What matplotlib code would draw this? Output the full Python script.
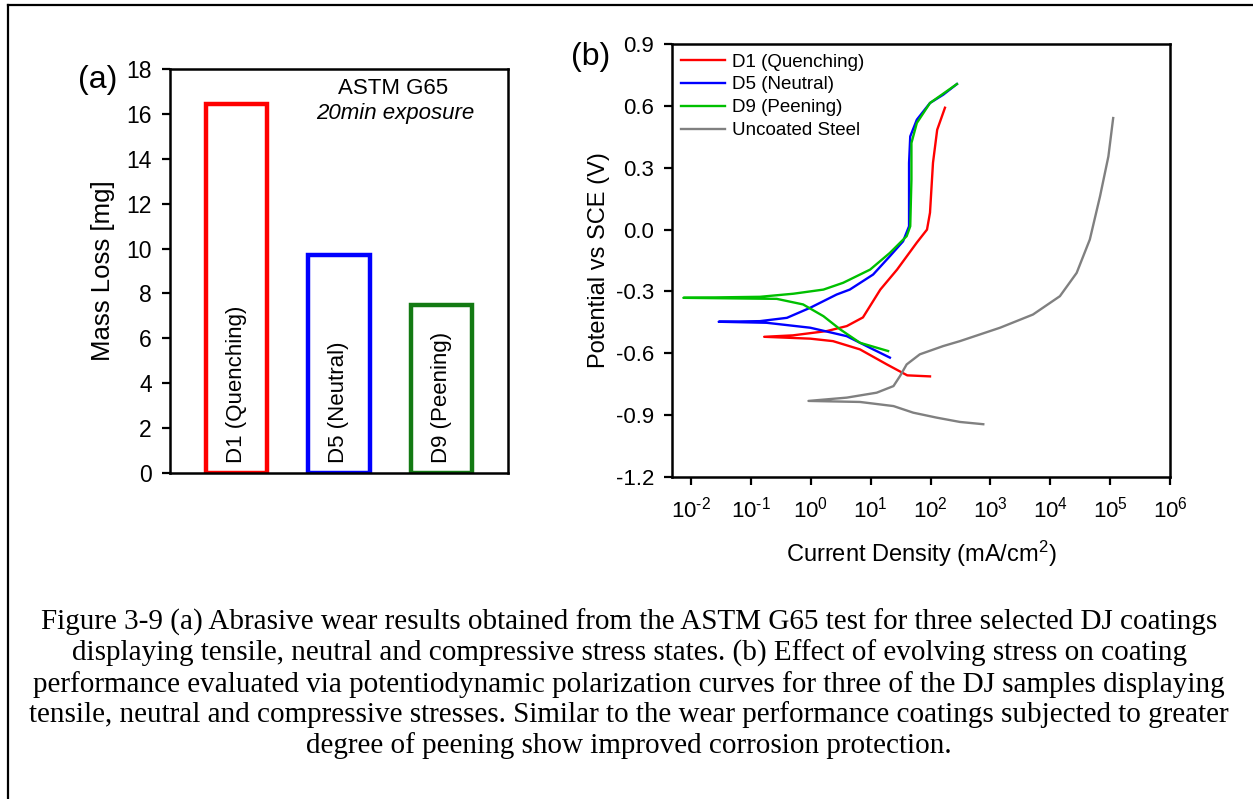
import matplotlib
matplotlib.use("Agg")
import matplotlib.pyplot as plt
from matplotlib.lines import Line2D
from matplotlib.ticker import FormatStrFormatter, NullLocator, FixedLocator, FuncFormatter
import numpy as np

plt.rcParams['font.family'] = ['Liberation Sans', 'DejaVu Sans']
plt.rcParams['axes.unicode_minus'] = False
plt.rcParams['mathtext.fontset'] = 'custom'
plt.rcParams['mathtext.rm'] = 'Liberation Sans'
plt.rcParams['mathtext.it'] = 'Liberation Sans:italic'

# (a) abrasive wear
samples = ['D1 (Quenching)', 'D5 (Neutral)', 'D9 (Peening)']
mass_loss = [16.45, 9.7, 7.5]
bar_colors = ['#ff0000', '#0000ff', '#137a13']

# (b) polarization curves: log10 current density (mA/cm2) and potential (V vs SCE)
d1_logi = [1.99, 1.61, 1.27, 0.82, 0.37, -0.01, -0.78, -0.30, 0.27, 0.60, 0.87,
           1.16, 1.44, 1.77, 1.94, 1.99, 2.04, 2.11, 2.24]
d1_pot = [-0.712, -0.707, -0.654, -0.581, -0.541, -0.529, -0.520, -0.513, -0.492,
          -0.468, -0.426, -0.291, -0.194, -0.063, 0.0, 0.082, 0.324, 0.484, 0.591]

d5_logi = [1.32, 1.04, 0.60, -0.01, -0.74, -1.54, -0.85, -0.40, -0.01, 0.43, 0.65,
           1.04, 1.32, 1.54, 1.64, 1.64, 1.64, 1.66, 1.77, 1.99, 2.21, 2.44]
d5_pot = [-0.621, -0.581, -0.517, -0.476, -0.452, -0.447, -0.444, -0.428, -0.379,
          -0.315, -0.291, -0.218, -0.129, -0.057, 0.016, 0.064, 0.323, 0.452, 0.533,
          0.614, 0.654, 0.706]

d9_logi = [1.29, 0.82, 0.49, 0.21, -0.13, -0.57, -2.13, -0.85, -0.29, 0.21, 0.54,
           0.99, 1.32, 1.60, 1.66, 1.68, 1.68, 1.77, 1.99, 2.44]
d9_pot = [-0.589, -0.549, -0.484, -0.420, -0.363, -0.336, -0.331, -0.326, -0.311,
          -0.291, -0.258, -0.194, -0.113, -0.032, 0.016, 0.242, 0.420, 0.517, 0.614,
          0.706]

steel_logi = [2.88, 2.49, 2.10, 1.71, 1.38, 0.82, -0.04, 0.60, 1.10, 1.38, 1.49, 1.60,
              1.82, 2.21, 2.49, 3.16, 3.71, 4.16, 4.44, 4.66, 4.83, 4.97, 5.05]
steel_pot = [-0.944, -0.933, -0.912, -0.888, -0.856, -0.836, -0.831, -0.815, -0.791,
             -0.759, -0.710, -0.654, -0.605, -0.565, -0.541, -0.476, -0.412, -0.323,
             -0.210, -0.048, 0.161, 0.355, 0.541]

decades = [-2, -1, 0, 1, 2, 3, 4, 5, 6]

curves = [('D1 (Quenching)', d1_logi, d1_pot, '#ff0000'),
          ('D5 (Neutral)', d5_logi, d5_pot, '#0000ff'),
          ('D9 (Peening)', d9_logi, d9_pot, '#00c000'),
          ('Uncoated Steel', steel_logi, steel_pot, '#808080')]

caption = ("Figure 3-9 (a) Abrasive wear results obtained from the ASTM G65 test for three selected DJ coatings\n"
           "displaying tensile, neutral and compressive stress states. (b) Effect of evolving stress on coating\n"
           "performance evaluated via potentiodynamic polarization curves for three of the DJ samples displaying\n"
           "tensile, neutral and compressive stresses. Similar to the wear performance coatings subjected to greater\n"
           "degree of peening show improved corrosion protection.")

fig = plt.figure(figsize=(12.53, 7.99), dpi=100)

# outer border (left and top only)
fig.add_artist(Line2D([0.0065, 0.0065], [0, 0.9935], color='black', lw=1.6, transform=fig.transFigure))
fig.add_artist(Line2D([0.0065, 1.0], [0.9935, 0.9935], color='black', lw=1.6, transform=fig.transFigure))

# ---- panel (a)
ax1 = fig.add_axes([0.1357, 0.408, 0.2697, 0.5056])
x = np.arange(len(samples))
ax1.bar(x, mass_loss, width=0.6, fill=False, edgecolor=bar_colors, linewidth=3.2)
for xi, name in zip(x, samples):
    ax1.text(xi, 0.45, name, rotation=90, ha='center', va='bottom', fontsize=16)
ax1.set_xlim(-0.65, 2.65)
ax1.set_ylim(0, 18)
ax1.set_yticks(range(0, 19, 2))
ax1.set_xticks([])
ax1.tick_params(axis='y', labelsize=16.5, length=6, width=1.6, pad=7)
ax1.set_ylabel('Mass Loss [mg]', fontsize=18.5, labelpad=8)
for sp in ax1.spines.values():
    sp.set_linewidth(1.8)
ax1.text(0.66, 0.953, 'ASTM G65', transform=ax1.transAxes, ha='center', va='center', fontsize=16)
ax1.text(0.666, 0.891, '20min exposure', transform=ax1.transAxes, ha='center', va='center',
         fontsize=16, style='italic')
fig.text(0.078, 0.9, '(a)', fontsize=23, ha='center', va='center')

# ---- panel (b)
ax2 = fig.add_axes([0.5363, 0.403, 0.3975, 0.5419])
for name, logi, pot, col in curves:
    ax2.plot(np.power(10.0, logi), pot, color=col, lw=1.7, label=name)
ax2.set_xscale('log')
ax2.set_xlim(10 ** -2.32, 1e6)
ax2.set_ylim(-1.2, 0.9)
ax2.set_yticks(np.arange(-1.2, 0.91, 0.3))
ax2.yaxis.set_major_formatter(FormatStrFormatter('%.1f'))
ax2.xaxis.set_major_locator(FixedLocator([10.0 ** d for d in decades]))
ax2.xaxis.set_major_formatter(FuncFormatter(
    lambda v, pos: r'$\mathregular{10^{\text{%d}}}$' % round(np.log10(v))))
ax2.xaxis.set_minor_locator(NullLocator())
ax2.tick_params(axis='both', labelsize=16, length=6, width=1.6)
ax2.tick_params(axis='y', pad=7)
ax2.tick_params(axis='x', pad=8)
for sp in ax2.spines.values():
    sp.set_linewidth(1.8)
ax2.set_xlabel('Current Density (mA/cm$^2$)', fontsize=17, labelpad=12)
ax2.set_ylabel('Potential vs SCE (V)', fontsize=17, labelpad=4)
ax2.legend(loc='upper left', frameon=False, fontsize=13.5, handlelength=2.35,
           handletextpad=0.35, labelspacing=0.31, borderpad=0.45, borderaxespad=0.05)
fig.text(0.471, 0.929, '(b)', fontsize=23, ha='center', va='center')

# ---- caption
fig.text(0.502, 0.144, caption, ha='center', va='center', fontsize=21,
         family=['Liberation Serif', 'DejaVu Serif'], linespacing=1.17)

fig.savefig('out.png', dpi=100)
